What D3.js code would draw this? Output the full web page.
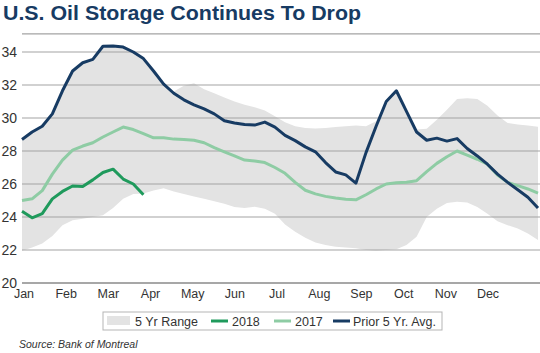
<!DOCTYPE html>
<html>
<head>
<meta charset="utf-8">
<script src="https://cdn.jsdelivr.net/npm/d3@7"></script>
<style>
  body { margin: 0; background: #fff; }
  svg { display: block; font-family: "Liberation Sans", Arial, sans-serif; }
</style>
</head>
<body>
<div id="container"></div>
<script>
/* DATA (weekly, Jan -> Dec) */
const months = ["Jan","Feb","Mar","Apr","May","Jun","Jul","Aug","Sep","Oct","Nov","Dec"];
const yTicks = [20, 22, 24, 26, 28, 30, 32, 34];

const avg5 = [28.7,29.15,29.5,30.25,31.65,32.85,33.35,33.55,34.35,34.37,34.3,34.0,33.6,32.85,
  32.05,31.5,31.1,30.8,30.55,30.25,29.83,29.7,29.6,29.57,29.75,29.45,28.95,28.63,28.25,27.95,
  27.3,26.73,26.55,26.05,27.9,29.5,31.0,31.65,30.4,29.15,28.65,28.78,28.6,28.75,28.15,27.7,
  27.2,26.6,26.1,25.65,25.2,24.55];

const y2017 = [25.0,25.1,25.6,26.6,27.45,28.05,28.3,28.5,28.85,29.15,29.45,29.3,29.05,28.8,
  28.8,28.72,28.7,28.65,28.5,28.2,27.95,27.7,27.45,27.4,27.3,27.0,26.65,26.1,25.62,25.4,
  25.25,25.15,25.08,25.04,25.35,25.7,26.0,26.08,26.1,26.2,26.75,27.25,27.65,28.0,27.75,27.5,
  27.2,26.55,26.1,25.9,25.7,25.45];

const y2018 = [24.35,23.95,24.2,25.1,25.55,25.88,25.85,26.25,26.7,26.9,26.3,26.0,25.35];

const rangeHigh = [28.7,29.15,29.5,30.25,31.65,32.85,33.35,33.55,34.35,34.37,34.3,34.0,33.6,32.85,
  32.05,31.6,31.95,32.1,31.75,31.5,31.25,31.0,30.8,30.65,30.45,30.1,29.75,29.5,29.4,29.37,
  29.4,29.45,29.5,29.55,29.5,29.8,31.0,31.65,30.4,29.3,29.35,29.9,30.5,31.15,31.2,31.15,
  30.75,30.15,29.7,29.6,29.55,29.47];

const rangeLow = [21.95,22.15,22.4,22.85,23.5,23.8,23.9,24.0,24.1,24.55,25.1,25.4,25.42,25.6,
  25.74,25.55,25.4,25.25,25.1,24.95,24.8,24.6,24.55,24.62,24.5,24.2,23.55,23.1,22.75,22.45,
  22.3,22.2,22.15,22.1,22.0,21.95,22.0,22.05,22.3,22.8,24.0,24.5,24.85,24.92,24.88,24.6,
  24.2,23.75,23.5,23.3,23.0,22.6];

/* CONSTANTS */
const width = 540, height = 353;
const navy = "#173b63", green = "#1f9a5c", lightGreen = "#8ecca4", band = "#e3e3e3";

const x = d3.scaleLinear().domain([0, 51]).range([22, 538]);
const y = d3.scaleLinear().domain([20, 34]).range([283, 52]);
const xMonth = d3.scalePoint().domain(months).range([24, 488]);

const svg = d3.select("#container").append("svg")
  .attr("width", width)
  .attr("height", height);

// title
svg.append("text")
  .attr("x", 3).attr("y", 20)
  .attr("font-size", 20).attr("font-weight", "bold")
  .attr("fill", navy)
  .attr("textLength", 358).attr("lengthAdjust", "spacingAndGlyphs")
  .text("U.S. Oil Storage Continues To Drop");

// 5 yr range band
const area = d3.area()
  .x((d, i) => x(i))
  .y0((d, i) => y(rangeLow[i]))
  .y1(d => y(d));
svg.append("path").datum(rangeHigh)
  .attr("d", area)
  .attr("fill", band);

// gridlines (plus the top frame line)
svg.append("g").selectAll("line")
  .data(yTicks.concat([35.1]))
  .join("line")
  .attr("x1", 22).attr("x2", width)
  .attr("y1", d => y(d)).attr("y2", d => y(d))
  .attr("stroke", d => d === 20 ? "#8a8a8a" : "#a3a3a3")
  .attr("stroke-width", d => d === 20 ? 1.5 : 1.1);

// y labels
svg.append("g").selectAll("text")
  .data(yTicks)
  .join("text")
  .attr("x", 17).attr("y", d => y(d) + 5)
  .attr("text-anchor", "end")
  .attr("font-size", 14).attr("fill", "#333")
  .text(d => d);

// x labels
svg.append("g").selectAll("text")
  .data(months)
  .join("text")
  .attr("x", d => xMonth(d)).attr("y", 298)
  .attr("text-anchor", "middle")
  .attr("font-family", "'Liberation Sans Narrow', 'Arial Narrow', sans-serif")
  .attr("font-size", 12.5).attr("fill", "#333")
  .text(d => d);

// lines
const line = d3.line().x((d, i) => x(i)).y(d => y(d));
[[y2017, lightGreen], [avg5, navy], [y2018, green]].forEach(([data, color]) => {
  svg.append("path").datum(data)
    .attr("d", line)
    .attr("fill", "none")
    .attr("stroke", color)
    .attr("stroke-width", 3)
    .attr("stroke-linejoin", "round");
});

// legend
const legend = svg.append("g");
legend.append("rect")
  .attr("x", 103).attr("y", 312).attr("width", 339).attr("height", 18)
  .attr("fill", "#fff").attr("stroke", "#b5b5b5").attr("stroke-width", 1);
legend.append("rect")
  .attr("x", 107).attr("y", 316).attr("width", 23).attr("height", 9)
  .attr("fill", band);
const items = [
  {label: "5 Yr Range", tx: 135},
  {label: "2018", tx: 232, color: green, lx: 211},
  {label: "2017", tx: 295, color: lightGreen, lx: 274},
  {label: "Prior 5 Yr. Avg.", tx: 353, color: navy, lx: 333}
];
items.forEach(it => {
  if (it.color) {
    legend.append("line")
      .attr("x1", it.lx).attr("x2", it.lx + 17)
      .attr("y1", 321).attr("y2", 321)
      .attr("stroke", it.color).attr("stroke-width", 3);
  }
  legend.append("text")
    .attr("x", it.tx).attr("y", 325.5)
    .attr("font-size", 12.5).attr("fill", "#333")
    .text(it.label);
});

// source
svg.append("text")
  .attr("x", 19).attr("y", 348)
  .attr("font-size", 10.5).attr("font-style", "italic").attr("fill", "#333")
  .text("Source: Bank of Montreal");
</script>
</body>
</html>
